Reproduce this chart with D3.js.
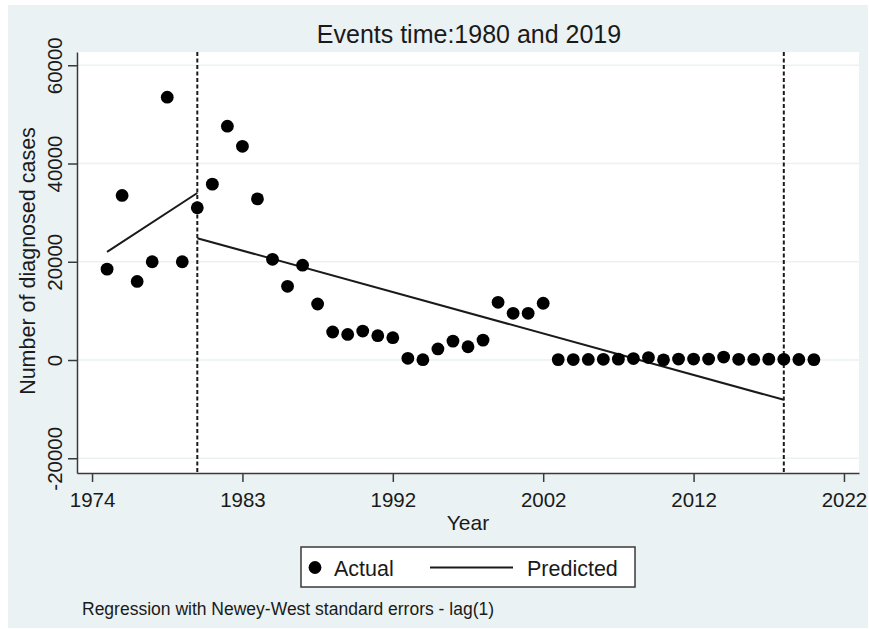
<!DOCTYPE html>
<head>
  <meta charset="utf-8">
  <script src="https://d3js.org/d3.v7.min.js"></script>
  <style>
    body { margin: 0; background: #fff; }
    svg { display: block; font-family: "Liberation Sans", Arial, sans-serif; }
  </style>
</head>

<body>
  <svg width="869" height="629"></svg>
  <script>
    // data
    var years = [1974, 1975, 1976, 1977, 1978, 1979, 1980, 1981, 1982, 1983, 1984, 1985,
                 1986, 1987, 1988, 1989, 1990, 1991, 1992, 1993, 1994, 1995,
                 1996, 1997, 1998, 1999, 2000, 2001, 2002, 2003,
                 2004, 2005, 2006, 2007, 2008, 2009, 2010, 2011, 2012, 2013, 2014, 2015,
                 2016, 2017, 2018, 2019, 2020, 2021];
    var cases = [18500, 33500, 16000, 20000, 53500, 20000, 31000, 35800, 47600, 43500, 32800, 20500,
                 15000, 19300, 11400, 5700, 5200, 5900, 4950, 4550, 350, 60,
                 2250, 3850, 2700, 4050, 11750, 9500, 9500, 11550,
                 80, 90, 120, 150, 180, 300, 500, 30, 200, 200, 200, 600,
                 150, 120, 180, 150, 100, 80];

    // predicted (two segments, before and after the 1980 event)
    var predYears1 = [1974, 1980];
    var predValues1 = [22000, 34000];
    var predYears2 = [1980, 2019];
    var predValues2 = [24800, -8100];

    var eventYears = [1980, 2019];

    var xTickPos = [1973, 1983, 1993, 2003, 2013, 2023];
    var xTickLabels = ["1974", "1983", "1992", "2002", "2012", "2022"];
    var yTicks = [-20000, 0, 20000, 40000, 60000];
    var legendLabels = ["Actual", "Predicted"];

    // options
    var plot = {left: 77, right: 859, top: 52, bottom: 473};
    var bg = "#eaf2f3";
    var ink = "#1a1a1a";

    var svg = d3.select('svg');

    // graph region
    svg.append('rect')
      .attr('x', 8).attr('y', 5)
      .attr('width', 860).attr('height', 623)
      .attr('fill', bg);

    svg.append('rect')
      .attr('x', plot.left).attr('y', plot.top)
      .attr('width', plot.right - plot.left).attr('height', plot.bottom - plot.top)
      .attr('fill', '#fff');

    // scales
    var x = d3.scaleLinear()
      .domain([1972, 2024])
      .range([plot.left, plot.right]);
    var y = d3.scaleLinear()
      .domain([-23000, 62700])
      .range([plot.bottom, plot.top]);

    // grid
    svg.append('g').selectAll('line')
      .data(yTicks)
      .enter().append('line')
      .attr('x1', plot.left).attr('x2', plot.right)
      .attr('y1', function(d){ return y(d); })
      .attr('y2', function(d){ return y(d); })
      .attr('stroke', bg).attr('stroke-width', 1.5);

    // event lines
    svg.append('g').selectAll('line')
      .data(eventYears)
      .enter().append('line')
      .attr('x1', function(d){ return x(d); })
      .attr('x2', function(d){ return x(d); })
      .attr('y1', plot.top).attr('y2', plot.bottom)
      .attr('stroke', ink).attr('stroke-width', 2)
      .attr('stroke-dasharray', '4,2.5');

    // predicted lines
    var line = d3.line()
      .x(function(d){ return x(d[0]); })
      .y(function(d){ return y(d[1]); });
    [d3.zip(predYears1, predValues1), d3.zip(predYears2, predValues2)].forEach(function(seg){
      svg.append('path')
        .attr('d', line(seg))
        .attr('fill', 'none')
        .attr('stroke', ink).attr('stroke-width', 2);
    });

    // actual points
    svg.append('g').selectAll('circle')
      .data(d3.zip(years, cases))
      .enter().append('circle')
      .attr('cx', function(d){ return x(d[0]); })
      .attr('cy', function(d){ return y(d[1]); })
      .attr('r', 6.4)
      .attr('fill', '#000');

    // axes
    var xAxis = d3.axisBottom(x)
      .tickValues(xTickPos)
      .tickFormat(function(d, i){ return xTickLabels[i]; })
      .tickSize(9).tickSizeOuter(0).tickPadding(10);
    var yAxis = d3.axisLeft(y)
      .tickValues(yTicks)
      .tickFormat(function(d){ return String(d); })
      .tickSize(9).tickSizeOuter(0);

    var gx = svg.append('g')
      .attr('transform', 'translate(0,' + plot.bottom + ')')
      .call(xAxis);
    var gy = svg.append('g')
      .attr('transform', 'translate(' + plot.left + ',0)')
      .call(yAxis);

    [gx, gy].forEach(function(g){
      g.select('.domain').attr('stroke', '#3a3a3a').attr('stroke-width', 1.5);
      g.selectAll('.tick line').attr('stroke', '#3a3a3a').attr('stroke-width', 1.5);
      g.selectAll('.tick text').attr('fill', ink).attr('font-size', 20.5)
        .attr('font-family', '"Liberation Sans", Arial, sans-serif');
    });
    gy.selectAll('.tick text')
      .attr('x', null).attr('dy', null)
      .attr('text-anchor', 'middle')
      .attr('transform', 'translate(-15,0) rotate(-90)');

    // titles
    svg.append('text')
      .attr('x', 469).attr('y', 42.5)
      .attr('text-anchor', 'middle')
      .attr('font-size', 25).attr('fill', ink)
      .text('Events time:1980 and 2019');

    svg.append('text')
      .attr('x', 468).attr('y', 530)
      .attr('text-anchor', 'middle')
      .attr('font-size', 21).attr('fill', ink)
      .text('Year');

    svg.append('text')
      .attr('transform', 'translate(34.5,261) rotate(-90)')
      .attr('text-anchor', 'middle')
      .attr('font-size', 21.5).attr('fill', ink)
      .text('Number of diagnosed cases');

    // legend
    var lg = svg.append('g');
    lg.append('rect')
      .attr('x', 301).attr('y', 547)
      .attr('width', 334).attr('height', 40)
      .attr('fill', '#fff').attr('stroke', '#3a3a3a').attr('stroke-width', 1.5);
    lg.append('circle')
      .attr('cx', 315).attr('cy', 567.5).attr('r', 6.4).attr('fill', '#000');
    lg.append('text')
      .attr('x', 334).attr('y', 576)
      .attr('font-size', 21.5).attr('fill', ink)
      .text(legendLabels[0]);
    lg.append('line')
      .attr('x1', 430).attr('x2', 513)
      .attr('y1', 567.5).attr('y2', 567.5)
      .attr('stroke', ink).attr('stroke-width', 2);
    lg.append('text')
      .attr('x', 527).attr('y', 576)
      .attr('font-size', 21.5).attr('fill', ink)
      .text(legendLabels[1]);

    // note
    svg.append('text')
      .attr('x', 82).attr('y', 615)
      .attr('font-size', 17.5).attr('fill', ink)
      .text('Regression with Newey-West standard errors - lag(1)');
  </script>
</body>
